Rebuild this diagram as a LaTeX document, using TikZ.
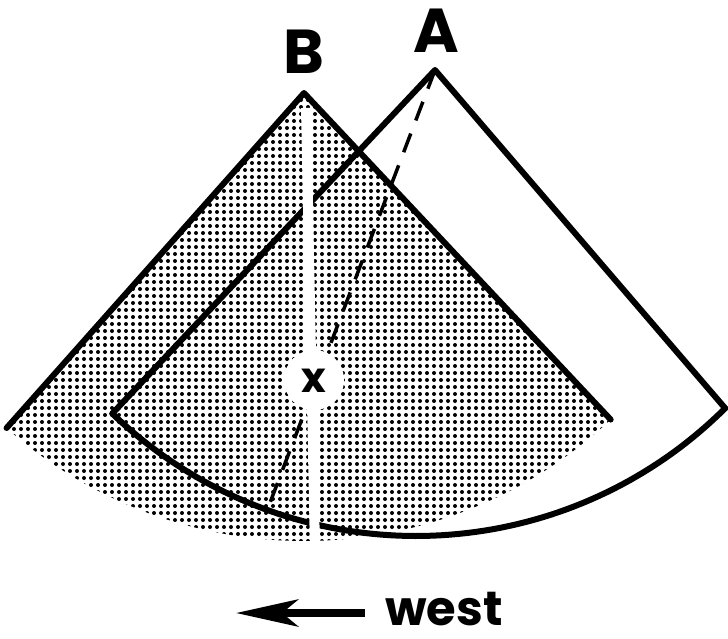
\documentclass[tikz,border=0pt]{standalone}
\usepackage{fontspec}
\usetikzlibrary{arrows.meta}
\newfontfamily\labfont{Poppins}
\tikzset{
  edge/.style={line width=6pt, line cap=round, line join=round, black},
  dashline/.style={line width=3.5pt, dash pattern=on 20pt off 14pt, black},
  whiteline/.style={line width=10pt, white},
  lab/.style={inner sep=0pt, font=\labfont\bfseries\fontsize{62}{62}\selectfont},
  smalllab/.style={inner sep=0pt, font=\labfont\bfseries\fontsize{42}{42}\selectfont},
  westlab/.style={inner sep=0pt, text depth=0pt, font=\labfont\bfseries\fontsize{48}{48}\selectfont},
}
\begin{document}
\begin{tikzpicture}[x=1pt,y=-1pt]
\useasboundingbox (0,0) rectangle (728,638);
% key points
\coordinate (apexB) at (304,93);
\coordinate (apexA) at (435,70);
\coordinate (Bl) at ({304+448*cos(228.4)},{93-448*sin(228.4)});
\coordinate (Br) at ({304+448*cos(313.2)},{93-448*sin(313.2)});
\coordinate (Al) at ({416+438*cos(226.1)},{98-438*sin(226.1)});
\coordinate (Ar) at ({416+438*cos(314.9)},{98-438*sin(314.9)});
\coordinate (dashend) at (268,508);
\coordinate (wtop) at (306,108);
\coordinate (wbot) at (315,550);
\coordinate (arrS) at (365,613);
\coordinate (arrE) at (236,613);
% dotted sector B
\begin{scope}
  \clip (apexB) -- (Bl) -- plot[domain=228.4:313.2, samples=80] ({304+448*cos(\x)},{93-448*sin(\x)}) -- cycle;
  \foreach \i in {0,7,...,623} {
    \foreach \j in {86,93,...,550} {
      \fill (\i,\j) circle (2pt);
    }
  }
\end{scope}
% edges of B
\draw[edge] (Bl) -- (apexB) -- (Br);
% sector A outline
\draw[edge] (Al) -- (apexA) -- (Ar);
\draw[edge] plot[domain=226.1:314.9, samples=80] ({416+438*cos(\x)},{98-438*sin(\x)});
% dashed line
\draw[dashline] (apexA) -- (dashend);
% white center line
\draw[whiteline] (wtop) -- (wbot);
% circle with x
\node[circle, fill=white, minimum size=60pt, inner sep=0pt] (xc) at (314,380) {};
\node[smalllab, anchor=base] (xl) at (314,392) {x};
% labels
\node[lab, anchor=base] (lB) at (304,73) {B};
\node[lab, anchor=base] (lA) at (436,52) {A};
% west arrow
\draw[line width=8pt, -{Stealth[length=62pt,width=27pt,inset=16pt]}] (arrS) -- (arrE);
\node[westlab, anchor=base west] (west) at (385,625) {west};
\end{tikzpicture}
\end{document}
